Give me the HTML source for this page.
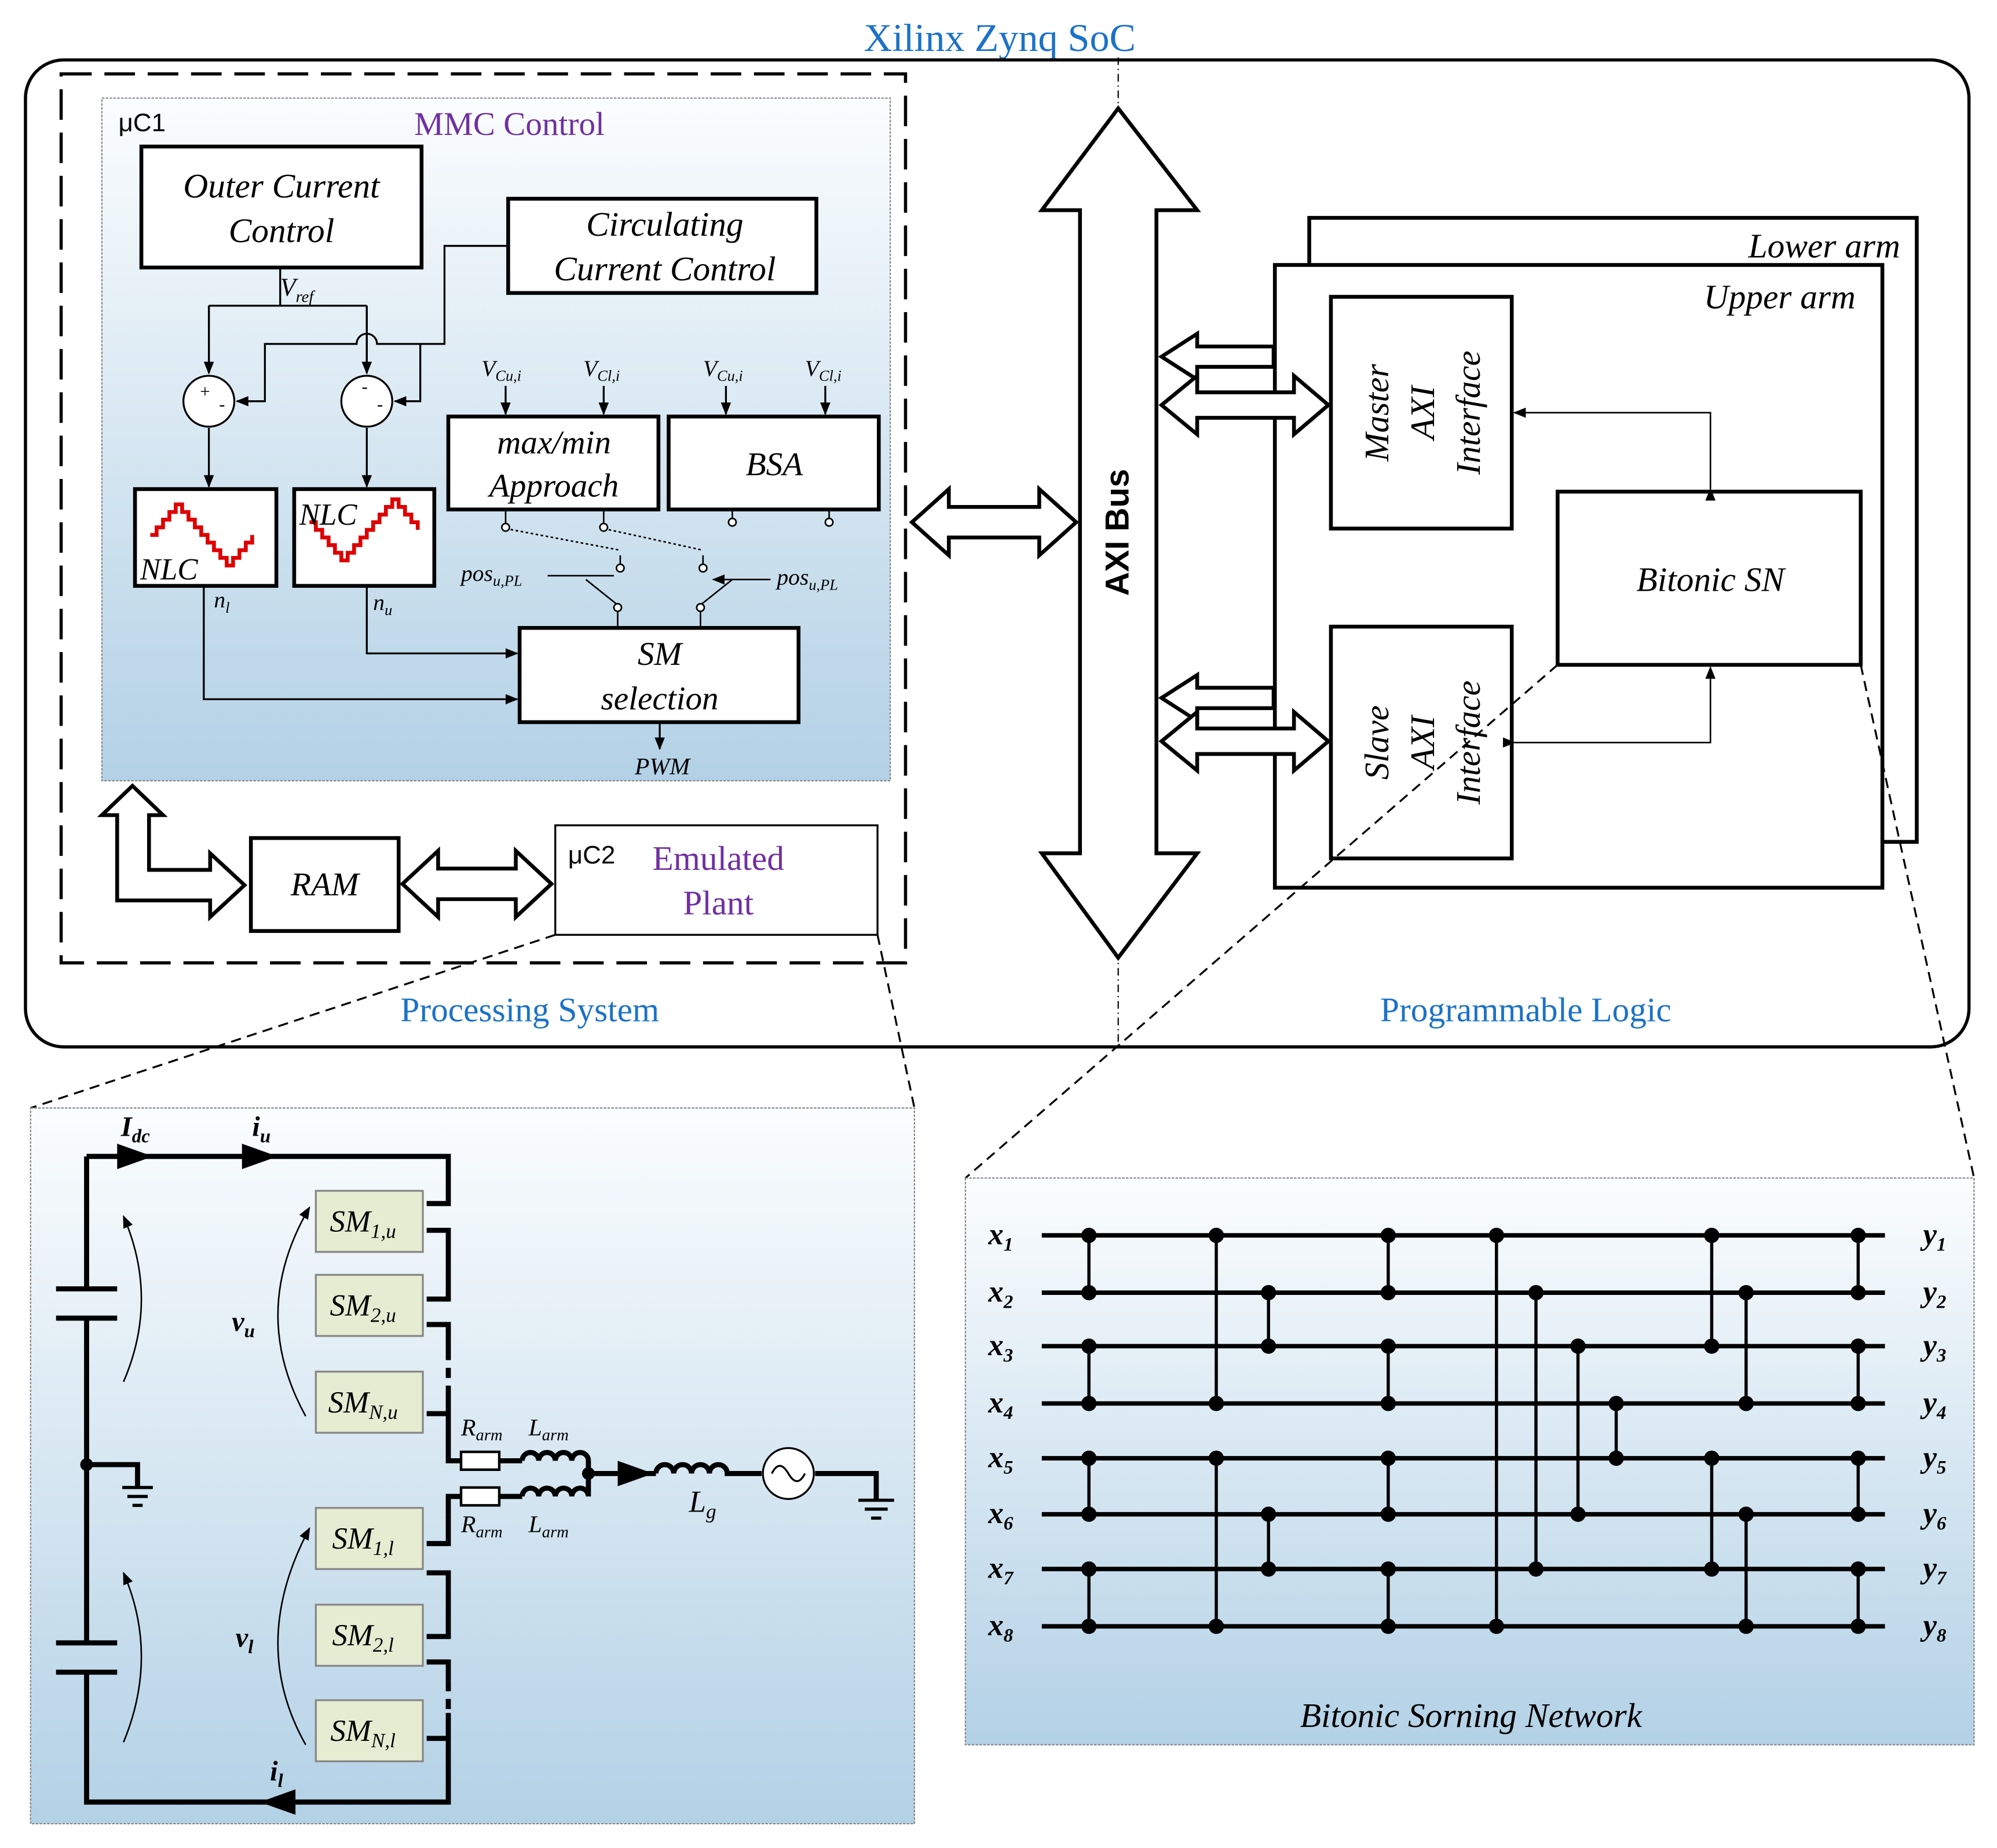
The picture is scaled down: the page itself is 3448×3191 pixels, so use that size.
<!DOCTYPE html>
<html><head><meta charset="utf-8"><style>
html,body{margin:0;padding:0;background:#fff}
svg{display:block}
text{font-family:"Liberation Serif",serif}
.it{font-style:italic}
</style></head><body>
<svg width="3448" height="3191" viewBox="0 0 1568 1451" xmlns="http://www.w3.org/2000/svg">
<defs>
<linearGradient id="g1" x1="0" y1="0" x2="0" y2="1"><stop offset="0" stop-color="#fbfdfe"/><stop offset="1" stop-color="#b3d1e6"/></linearGradient>
<marker id="ar" markerWidth="10" markerHeight="10" refX="9" refY="5" orient="auto" markerUnits="userSpaceOnUse"><path d="M0,1 L10,5 L0,9z" fill="#000"/></marker>
</defs>
<rect x="0" y="0" width="1568" height="1451" fill="#fff"/>
<text x="785" y="40" font-size="31" fill="#1b72c8" text-anchor="middle">Xilinx Zynq SoC</text>
<rect x="20" y="47" width="1526" height="775" rx="30" fill="none" stroke="#000" stroke-width="2.5"/>
<line x1="878" y1="45" x2="878" y2="822" stroke="#000" stroke-width="1" stroke-dasharray="6,3,1,3"/>
<!-- PS -->
<rect x="48" y="58" width="663" height="698" fill="none" stroke="#000" stroke-width="2.5" stroke-dasharray="24,10"/>
<rect x="80" y="77" width="619" height="536" fill="url(#g1)" stroke="#888" stroke-width="1" stroke-dasharray="2,1"/>
<text x="93" y="103" font-size="20" font-family="Liberation Sans,sans-serif" style="font-family:'Liberation Sans',sans-serif">μC1</text>
<text x="400" y="106" font-size="26" fill="#7030a0" text-anchor="middle">MMC Control</text>
<rect x="111" y="115" width="220" height="95" fill="#fff" stroke="#000" stroke-width="3"/>
<text x="221" y="155" font-size="27" class="it" text-anchor="middle">Outer Current</text>
<text x="221" y="190" font-size="27" class="it" text-anchor="middle">Control</text>
<rect x="399" y="156" width="242" height="74" fill="#fff" stroke="#000" stroke-width="3"/>
<text x="522" y="185" font-size="27" class="it" text-anchor="middle">Circulating</text>
<text x="522" y="220" font-size="27" class="it" text-anchor="middle">Current Control</text>
<text x="220" y="232" font-size="20" class="it">V<tspan font-size="13" dy="5">ref</tspan></text>
<g stroke="#000" stroke-width="1.5" fill="none">
<path d="M220,210 V240 M164,240 H288 M164,240 V293 M288,240 V293"/>
<path d="M164,240 V293" marker-end="url(#ar)"/>
<path d="M288,240 V293" marker-end="url(#ar)"/>
<path d="M399,193 H349 V270 H296 A8,8 0 0 0 280,270 H208 V315 H186" marker-end="url(#ar)"/>
<path d="M330,270 V315 H310" marker-end="url(#ar)"/>
<path d="M164,336 V382" marker-end="url(#ar)"/>
<path d="M288,336 V382" marker-end="url(#ar)"/>
<path d="M160,460 V549 H406" marker-end="url(#ar)"/>
<path d="M288,460 V513 H406" marker-end="url(#ar)"/>
<path d="M397,303 V325" marker-end="url(#ar)"/><path d="M474,303 V325" marker-end="url(#ar)"/>
<path d="M570,303 V325" marker-end="url(#ar)"/><path d="M648,303 V325" marker-end="url(#ar)"/>
<path d="M518,567 V588" marker-end="url(#ar)"/>
</g>
<circle cx="164" cy="315" r="20" fill="#fff" stroke="#000" stroke-width="1.5"/>
<circle cx="288" cy="315" r="20" fill="#fff" stroke="#000" stroke-width="1.5"/>
<text x="157" y="312" font-size="14">+</text><text x="172" y="322" font-size="14">-</text>
<text x="284" y="308" font-size="14">-</text><text x="296" y="322" font-size="14">-</text>
<rect x="106" y="384" width="111" height="76" fill="#fff" stroke="#000" stroke-width="3"/>
<rect x="231" y="384" width="110" height="76" fill="#fff" stroke="#000" stroke-width="3"/>
<path d="M118,420 h5v-6h5v-6h5v-6h5v-6h5v6h5v6h5v6h5v6h5v6h5v6h5v6h5v6h5v-6h5v-6h5v-6h5v-6" fill="none" stroke="#d00" stroke-width="3"/>
<path d="M243,410 h5v6h5v6h5v6h5v6h5v6h5v-6h5v-6h5v-6h5v-6h5v-6h5v-6h5v-6h5v-6h5v6h5v6h5v6h5v6" fill="none" stroke="#d00" stroke-width="3"/>
<text x="110" y="455" font-size="24" class="it">NLC</text>
<text x="235" y="412" font-size="24" class="it">NLC</text>
<text x="168" y="477" font-size="18" class="it">n<tspan font-size="12" dy="4">l</tspan></text>
<text x="293" y="479" font-size="18" class="it">n<tspan font-size="12" dy="4">u</tspan></text>
<text x="378" y="295" font-size="18" class="it">V<tspan font-size="12" dy="4">Cu,i</tspan></text>
<text x="458" y="295" font-size="18" class="it">V<tspan font-size="12" dy="4">Cl,i</tspan></text>
<text x="552" y="295" font-size="18" class="it">V<tspan font-size="12" dy="4">Cu,i</tspan></text>
<text x="632" y="295" font-size="18" class="it">V<tspan font-size="12" dy="4">Cl,i</tspan></text>
<rect x="352" y="327" width="165" height="73" fill="#fff" stroke="#000" stroke-width="3"/>
<text x="435" y="356" font-size="26" class="it" text-anchor="middle">max/min</text>
<text x="435" y="390" font-size="26" class="it" text-anchor="middle">Approach</text>
<rect x="525" y="327" width="165" height="73" fill="#fff" stroke="#000" stroke-width="3"/>
<text x="608" y="373" font-size="26" class="it" text-anchor="middle">BSA</text>
<g stroke="#000" stroke-width="1.2" fill="#fff">
<path d="M397,400 V412 M474,400 V412 M575,400 V412 M651,400 V412" />
<path d="M397,415 L487,432 M474,415 L552,432" stroke-dasharray="2,2" fill="none"/>
<path d="M487,436 V446 M552,436 V446 M485,475 L460,455 M550,475 L575,455 M485,475 V492 M550,475 V492" fill="none"/>
<path d="M430,452 H482 M605,455 H560" fill="none" marker-end="url(#ar)"/>
<circle cx="397" cy="414" r="3"/><circle cx="474" cy="414" r="3"/><circle cx="575" cy="410" r="3"/><circle cx="651" cy="410" r="3"/>
<circle cx="487" cy="446" r="3"/><circle cx="552" cy="446" r="3"/><circle cx="485" cy="477" r="3"/><circle cx="550" cy="477" r="3"/>
</g>
<text x="362" y="456" font-size="18" class="it">pos<tspan font-size="12" dy="4">u,PL</tspan></text>
<text x="610" y="459" font-size="18" class="it">pos<tspan font-size="12" dy="4">u,PL</tspan></text>
<rect x="408" y="493" width="219" height="74" fill="#fff" stroke="#000" stroke-width="3"/>
<text x="518" y="522" font-size="26" class="it" text-anchor="middle">SM</text>
<text x="518" y="557" font-size="26" class="it" text-anchor="middle">selection</text>
<text x="520" y="608" font-size="19" class="it" text-anchor="middle">PWM</text>
<!-- RAM etc -->
<path d="M80,640 L104,617 L128,640 H117 V683 H165 V670 L192,695 L165,720 V707 H92 V640 Z" fill="#fff" stroke="#000" stroke-width="3"/>
<rect x="197" y="658" width="116" height="73" fill="#fff" stroke="#000" stroke-width="3"/>
<text x="255" y="703" font-size="26" class="it" text-anchor="middle">RAM</text>
<path d="M316,694 L344,668 V682 H405 V668 L433,694 L405,720 V706 H344 V720 Z" fill="#fff" stroke="#000" stroke-width="3"/>
<rect x="436" y="648" width="253" height="86" fill="#fff" stroke="#000" stroke-width="1.5"/>
<text x="446" y="678" font-size="20" style="font-family:'Liberation Sans',sans-serif">μC2</text>
<text x="564" y="683" font-size="27" fill="#7030a0" text-anchor="middle">Emulated</text>
<text x="564" y="718" font-size="27" fill="#7030a0" text-anchor="middle">Plant</text>
<text x="416" y="802" font-size="27" fill="#1b72c8" text-anchor="middle">Processing System</text>
<text x="1198" y="802" font-size="27" fill="#1b72c8" text-anchor="middle">Programmable Logic</text>
<!-- AXI bus -->
<path d="M716,410 L745,384 V398 H816 V384 L845,410 L816,436 V422 H745 V436 Z" fill="#fff" stroke="#000" stroke-width="3"/>
<path d="M878,85 L940,165 H908 V670 H940 L878,752 L818,670 H848 V165 H818 Z" fill="#fff" stroke="#000" stroke-width="3"/>
<text x="886" y="418" font-size="26" font-weight="bold" text-anchor="middle" transform="rotate(-90 886 418)" style="font-family:'Liberation Sans',sans-serif">AXI Bus</text>
<rect x="1028" y="171" width="477" height="490" fill="#fff" stroke="#000" stroke-width="3"/>
<text x="1492" y="202" font-size="27" class="it" text-anchor="end">Lower arm</text>
<rect x="1001" y="208" width="477" height="489" fill="#fff" stroke="#000" stroke-width="3"/>
<text x="1457" y="242" font-size="27" class="it" text-anchor="end">Upper arm</text>
<path d="M912,280 L940,262 V272 H1000 V288 H940 V298 Z" fill="#fff" stroke="#000" stroke-width="3"/>
<path d="M912,318 L940,295 V308 H1016 V295 L1043,318 L1016,341 V328 H940 V341 Z" fill="#fff" stroke="#000" stroke-width="3"/>
<path d="M912,548 L940,530 V540 H1000 V556 H940 V566 Z" fill="#fff" stroke="#000" stroke-width="3"/>
<path d="M912,582 L940,559 V572 H1016 V559 L1043,582 L1016,605 V592 H940 V605 Z" fill="#fff" stroke="#000" stroke-width="3"/>
<rect x="1045" y="233" width="142" height="182" fill="#fff" stroke="#000" stroke-width="3"/>
<rect x="1045" y="492" width="142" height="182" fill="#fff" stroke="#000" stroke-width="3"/>
<g font-size="27" class="it" text-anchor="middle">
<text transform="translate(1090,324) rotate(-90)">Master</text>
<text transform="translate(1126,324) rotate(-90)">AXI</text>
<text transform="translate(1162,324) rotate(-90)">Interface</text>
<text transform="translate(1090,583) rotate(-90)">Slave</text>
<text transform="translate(1126,583) rotate(-90)">AXI</text>
<text transform="translate(1162,583) rotate(-90)">Interface</text>
</g>
<rect x="1223" y="386" width="238" height="136" fill="#fff" stroke="#000" stroke-width="3"/>
<text x="1343" y="464" font-size="27" class="it" text-anchor="middle">Bitonic SN</text>
<g stroke="#000" stroke-width="1.2" fill="none">
<path d="M1343,384 V324 H1189" marker-start="url(#ar)" marker-end="url(#ar)"/>
<path d="M1189,583 H1343 V524" marker-start="url(#ar)" marker-end="url(#ar)"/>
</g>
<!-- zoom lines -->
<g stroke="#000" stroke-width="1.5" stroke-dasharray="8,5" fill="none">
<path d="M436,734 L24,870 M689,734 L718,870 M1223,522 L758,925 M1461,522 L1550,925"/>
</g>
<!-- bottom left panel -->
<rect x="24" y="870" width="694" height="562" fill="url(#g1)" stroke="#888" stroke-width="1" stroke-dasharray="2,1"/>
<g stroke="#000" stroke-width="4" fill="none">
<path d="M68,908 V1012 M68,1035 V1290 M68,1313 V1415 H352 V1365 H335"/>
<path d="M44,1012 H92 M44,1035 H92 M44,1290 H92 M44,1313 H92"/>
<path d="M68,908 H352 V945 H335 M335,966 H352 V1020 H335 M335,1040 H352 V1060"/>
<path d="M352,1060 V1095" stroke-dasharray="8,6"/>
<path d="M352,1095 V1110 H335 M352,1110 V1147 H362 M392,1147 H410 M352,1190 V1175 H362 M392,1175 H410"/>
<path d="M352,1190 V1212 H335 M335,1235 H352 V1285 H335 M335,1305 H352 V1320"/>
<path d="M352,1320 V1345" stroke-dasharray="8,6"/>
<path d="M352,1345 V1365"/>
<path d="M410,1147 a6.5,6.5 0 0 1 13,0 a6.5,6.5 0 0 1 13,0 a6.5,6.5 0 0 1 13,0 a6.5,6.5 0 0 1 13,0 V1157 H515"/>
<path d="M410,1175 a6.5,6.5 0 0 1 13,0 a6.5,6.5 0 0 1 13,0 a6.5,6.5 0 0 1 13,0 a6.5,6.5 0 0 1 13,0 V1157"/>
<path d="M515,1157 a7,7 0 0 1 14,0 a7,7 0 0 1 14,0 a7,7 0 0 1 14,0 a7,7 0 0 1 14,0 H598 M640,1157 H688 V1178"/>
<path d="M68,1150 H108 V1168"/>
<path d="M96,1168 H120 M100,1175 H116 M104,1182 H112 M674,1178 H702 M679,1185 H697 M684,1192 H692" stroke-width="2.5"/>
</g>
<rect x="362" y="1140" width="30" height="14" fill="#fff" stroke="#000" stroke-width="2"/>
<rect x="362" y="1168" width="30" height="14" fill="#fff" stroke="#000" stroke-width="2"/>
<circle cx="68" cy="1150" r="5" fill="#000"/><circle cx="462" cy="1157" r="5" fill="#000"/>
<circle cx="619" cy="1157" r="20" fill="#fff" stroke="#000" stroke-width="1.5"/>
<path d="M606,1157 q6,-12 13,0 t13,0" fill="none" stroke="#000" stroke-width="1.5"/>
<path d="M92,898 L120,908 L92,918 Z M190,898 L218,908 L190,918 Z M485,1147 L513,1157 L485,1167 Z M232,1405 L204,1415 L232,1425 Z" fill="#000"/>
<g stroke="#000" stroke-width="1.2" fill="none">
<path d="M97,1085 Q125,1020 97,955" marker-end="url(#ar)"/>
<path d="M97,1368 Q125,1300 97,1235" marker-end="url(#ar)"/>
<path d="M240,1112 Q195,1030 243,948" marker-end="url(#ar)"/>
<path d="M240,1370 Q195,1290 243,1200" marker-end="url(#ar)"/>
</g>
<g fill="#e6ecd2" stroke="#888" stroke-width="1.5">
<rect x="248" y="935" width="84" height="48"/><rect x="248" y="1001" width="84" height="48"/><rect x="248" y="1077" width="84" height="48"/>
<rect x="248" y="1184" width="84" height="48"/><rect x="248" y="1260" width="84" height="48"/><rect x="248" y="1335" width="84" height="48"/>
</g>
<g font-size="24" class="it" text-anchor="middle">
<text x="285" y="967">SM<tspan font-size="16" dy="5">1,u</tspan></text>
<text x="285" y="1033">SM<tspan font-size="16" dy="5">2,u</tspan></text>
<text x="285" y="1109">SM<tspan font-size="16" dy="5">N,u</tspan></text>
<text x="285" y="1216">SM<tspan font-size="16" dy="5">1,l</tspan></text>
<text x="285" y="1292">SM<tspan font-size="16" dy="5">2,l</tspan></text>
<text x="285" y="1367">SM<tspan font-size="16" dy="5">N,l</tspan></text>
</g>
<g font-size="22" class="it" font-weight="bold">
<text x="95" y="892">I<tspan font-size="15" dy="5">dc</tspan></text>
<text x="198" y="892">i<tspan font-size="15" dy="5">u</tspan></text>
<text x="212" y="1398">i<tspan font-size="15" dy="5">l</tspan></text>
<text x="182" y="1045">v<tspan font-size="15" dy="5">u</tspan></text>
<text x="185" y="1293">v<tspan font-size="15" dy="5">l</tspan></text>
</g>
<g font-size="19" class="it">
<text x="362" y="1127">R<tspan font-size="13" dy="4">arm</tspan></text>
<text x="415" y="1127">L<tspan font-size="13" dy="4">arm</tspan></text>
<text x="362" y="1203">R<tspan font-size="13" dy="4">arm</tspan></text>
<text x="415" y="1203">L<tspan font-size="13" dy="4">arm</tspan></text>
<text x="541" y="1187" font-size="24">L<tspan font-size="16" dy="5">g</tspan></text>
</g>
<!-- bitonic -->
<rect x="758" y="925" width="792" height="445" fill="url(#g1)" stroke="#888" stroke-width="1" stroke-dasharray="2,1"/>
<g stroke="#000" stroke-width="3.5">
<path d="M818,970 H1480 M818,1015 H1480 M818,1057 H1480 M818,1102 H1480 M818,1145 H1480 M818,1189 H1480 M818,1232 H1480 M818,1277 H1480"/>
<path d="M855,970V1015M855,1057V1102M855,1145V1189M855,1232V1277 M955,970V1102M955,1145V1277 M996,1015V1057M996,1189V1232 M1090,970V1015M1090,1057V1102M1090,1145V1189M1090,1232V1277 M1175,970V1277 M1206,1015V1232 M1239,1057V1189 M1269,1102V1145 M1344,970V1057M1344,1145V1232 M1371,1015V1102M1371,1189V1277 M1459,970V1015M1459,1057V1102M1459,1145V1189M1459,1232V1277" stroke-width="2.5"/>
</g>
<g fill="#000">
<circle cx="855" cy="970" r="6"/><circle cx="855" cy="1015" r="6"/><circle cx="855" cy="1057" r="6"/><circle cx="855" cy="1102" r="6"/><circle cx="855" cy="1145" r="6"/><circle cx="855" cy="1189" r="6"/><circle cx="855" cy="1232" r="6"/><circle cx="855" cy="1277" r="6"/>
<circle cx="955" cy="970" r="6"/><circle cx="955" cy="1102" r="6"/><circle cx="955" cy="1145" r="6"/><circle cx="955" cy="1277" r="6"/>
<circle cx="996" cy="1015" r="6"/><circle cx="996" cy="1057" r="6"/><circle cx="996" cy="1189" r="6"/><circle cx="996" cy="1232" r="6"/>
<circle cx="1090" cy="970" r="6"/><circle cx="1090" cy="1015" r="6"/><circle cx="1090" cy="1057" r="6"/><circle cx="1090" cy="1102" r="6"/><circle cx="1090" cy="1145" r="6"/><circle cx="1090" cy="1189" r="6"/><circle cx="1090" cy="1232" r="6"/><circle cx="1090" cy="1277" r="6"/>
<circle cx="1175" cy="970" r="6"/><circle cx="1175" cy="1277" r="6"/><circle cx="1206" cy="1015" r="6"/><circle cx="1206" cy="1232" r="6"/>
<circle cx="1239" cy="1057" r="6"/><circle cx="1239" cy="1189" r="6"/><circle cx="1269" cy="1102" r="6"/><circle cx="1269" cy="1145" r="6"/>
<circle cx="1344" cy="970" r="6"/><circle cx="1344" cy="1057" r="6"/><circle cx="1344" cy="1145" r="6"/><circle cx="1344" cy="1232" r="6"/>
<circle cx="1371" cy="1015" r="6"/><circle cx="1371" cy="1102" r="6"/><circle cx="1371" cy="1189" r="6"/><circle cx="1371" cy="1277" r="6"/>
<circle cx="1459" cy="970" r="6"/><circle cx="1459" cy="1015" r="6"/><circle cx="1459" cy="1057" r="6"/><circle cx="1459" cy="1102" r="6"/><circle cx="1459" cy="1145" r="6"/><circle cx="1459" cy="1189" r="6"/><circle cx="1459" cy="1232" r="6"/><circle cx="1459" cy="1277" r="6"/>
</g>
<g font-size="24" class="it" font-weight="bold">
<text x="776" y="977">x<tspan font-size="15" dy="5">1</tspan></text><text x="776" y="1022">x<tspan font-size="15" dy="5">2</tspan></text>
<text x="776" y="1064">x<tspan font-size="15" dy="5">3</tspan></text><text x="776" y="1109">x<tspan font-size="15" dy="5">4</tspan></text>
<text x="776" y="1152">x<tspan font-size="15" dy="5">5</tspan></text><text x="776" y="1196">x<tspan font-size="15" dy="5">6</tspan></text>
<text x="776" y="1239">x<tspan font-size="15" dy="5">7</tspan></text><text x="776" y="1284">x<tspan font-size="15" dy="5">8</tspan></text>
<text x="1510" y="977">y<tspan font-size="15" dy="5">1</tspan></text><text x="1510" y="1022">y<tspan font-size="15" dy="5">2</tspan></text>
<text x="1510" y="1064">y<tspan font-size="15" dy="5">3</tspan></text><text x="1510" y="1109">y<tspan font-size="15" dy="5">4</tspan></text>
<text x="1510" y="1152">y<tspan font-size="15" dy="5">5</tspan></text><text x="1510" y="1196">y<tspan font-size="15" dy="5">6</tspan></text>
<text x="1510" y="1239">y<tspan font-size="15" dy="5">7</tspan></text><text x="1510" y="1284">y<tspan font-size="15" dy="5">8</tspan></text>
</g>
<text x="1155" y="1356" font-size="27" class="it" text-anchor="middle">Bitonic Sorning Network</text>
</svg>
</body></html>
